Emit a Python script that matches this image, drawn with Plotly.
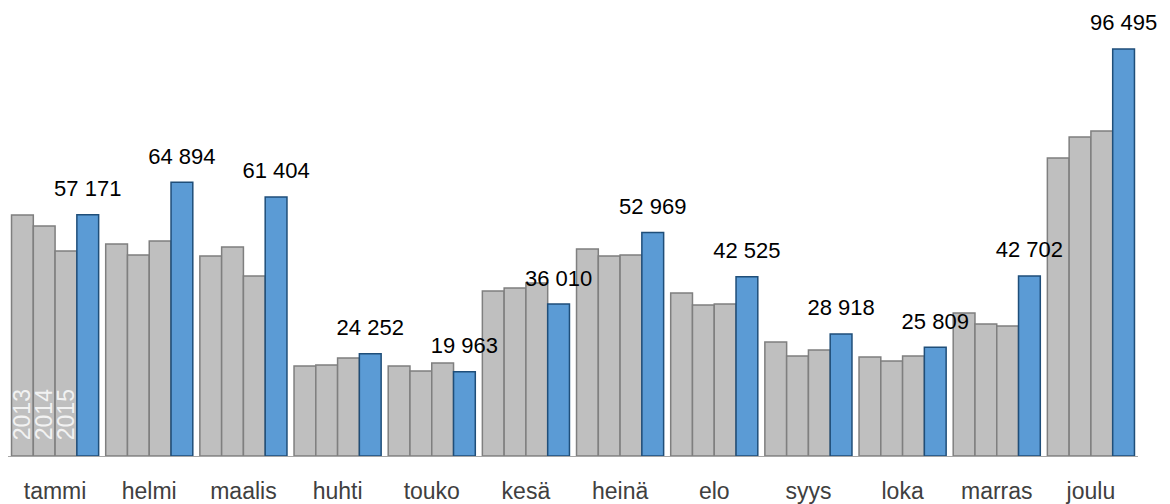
import plotly.graph_objects as go

months = ["tammi", "helmi", "maalis", "huhti", "touko", "kesä",
          "heinä", "elo", "syys", "loka", "marras", "joulu"]
y2013 = [57140, 50260, 47420, 21340, 21340, 39120, 49080, 38650, 27030, 23470, 33900, 70650]
y2014 = [54530, 47650, 49550, 21580, 20150, 39830, 47420, 35800, 23710, 22520, 31300, 75630]
y2015 = [48600, 50970, 42680, 23230, 22050, 41020, 47650, 36040, 25130, 23710, 30820, 77050]
y2016 = [57171, 64894, 61404, 24252, 19963, 36010, 52969, 42525, 28918, 25809, 42702, 96495]
years = ["2013", "2014", "2015", "2016"]

def fmt(v):
    s = f"{v:,}".replace(",", " ")
    return ("<span style='font-size:22px'>" + s + "</span>"
            "<br><span style='font-size:1px'>\u00a0</span>")

FONT = "Liberation Sans"
fig = go.Figure()
for yr, vals in zip(years[:3], [y2013, y2014, y2015]):
    fig.add_trace(go.Bar(
        x=months, y=vals, name=yr,
        marker=dict(color="#BFBFBF", line=dict(color="#7F7F7F", width=1.5)),
        text=["\u00a0\u00a0" + yr] + [""] * (len(months) - 1),
        textposition="inside", insidetextanchor="start", textangle=-90,
        insidetextfont=dict(color="#F2F2F2", size=23, family=FONT),
        constraintext="none",
        cliponaxis=False,
    ))
fig.add_trace(go.Bar(
    x=months, y=y2016, name=years[3],
    marker=dict(color="#5B9BD5", line=dict(color="#1F4E79", width=1.5)),
    text=[fmt(v) for v in y2016], textposition="outside",
    outsidetextfont=dict(color="#000000", size=12, family=FONT),
    constraintext="none",
    cliponaxis=False,
))

fig.update_layout(
    width=1162, height=496,
    margin=dict(l=0, r=32, t=2, b=48, autoexpand=False),
    barmode="group", bargap=0.075, bargroupgap=0,
    plot_bgcolor="white", paper_bgcolor="white",
    showlegend=False, uniformtext=dict(mode=False),
    font=dict(family=FONT),
)
fig.update_xaxes(showline=True, linecolor="#A6A6A6", linewidth=1, automargin=False,
                 range=[-0.5, len(months) - 0.5],
                 ticks="", tickfont=dict(size=23, color="#404040", family=FONT),
                 ticklabelstandoff=14)
fig.update_yaxes(range=[0, 105740], visible=False, showgrid=False, automargin=False)

fig.write_html("out.html")
